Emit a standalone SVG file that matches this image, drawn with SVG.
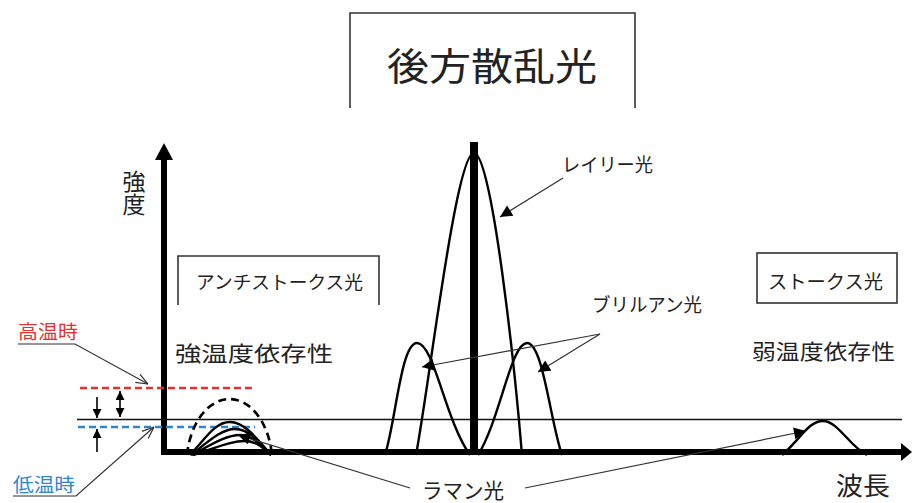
<svg xmlns="http://www.w3.org/2000/svg" width="912" height="503" viewBox="0 0 912 503">
<style>
text{font-family:"Noto Sans CJK JP","Noto Sans",sans-serif;fill:#222}
.box{fill:none;stroke:#333;stroke-width:1.6}
.axis{stroke:#000;stroke-width:6;fill:none}
.curve{fill:none;stroke:#000;stroke-width:2.4;stroke-linejoin:round}
.lead{fill:none;stroke:#333;stroke-width:1.2}
.thin{stroke:#111;stroke-width:1.3}
</style>
<defs>
<marker id="tri" viewBox="0 0 10 10" refX="10" refY="5" markerWidth="16" markerHeight="12" orient="auto" markerUnits="userSpaceOnUse"><path d="M0,0 L10,5 L0,10 Z" fill="#000"/></marker>
<marker id="triS" viewBox="0 0 10 10" refX="10" refY="5" markerWidth="9" markerHeight="9" orient="auto-start-reverse" markerUnits="userSpaceOnUse"><path d="M0,0 L10,5 L0,10 Z" fill="#000"/></marker>
<marker id="open" viewBox="0 0 10 10" refX="10" refY="5" markerWidth="12" markerHeight="12" orient="auto" markerUnits="userSpaceOnUse"><path d="M0,1 L10,5 L0,9" fill="none" stroke="#333" stroke-width="1"/></marker>
</defs>

<g id="title">
<path class="box" d="M350,108 V13 H635 V108"/>
<text x="387" y="80" font-size="38" textLength="210" lengthAdjust="spacingAndGlyphs">後方散乱光</text>
</g>

<g id="axes">
<line class="axis" x1="164" y1="455" x2="164" y2="158"/>
<path d="M155,160 L164,143 L173,160 Z" fill="#000"/>
<line class="axis" x1="161" y1="452" x2="903" y2="452"/>
<path d="M901,443 L912,452 L901,461 Z" fill="#000"/>
<text x="134" y="170" font-size="23" style="writing-mode:vertical-rl">強度</text>
<text x="836" y="495" font-size="25" textLength="54" lengthAdjust="spacingAndGlyphs">波長</text>
</g>

<g id="reference-lines">
<line class="thin" x1="77" y1="419.5" x2="902" y2="419.5"/>
<line x1="80" y1="388" x2="255" y2="388" stroke="#e8312f" stroke-width="2.5" stroke-dasharray="7,4"/>
<line x1="78" y1="427" x2="255" y2="427" stroke="#2f86d0" stroke-width="2.5" stroke-dasharray="7,4"/>
</g>

<g id="anti-stokes">
<path class="box" d="M178,305 V256 H379 V305"/>
<text x="196" y="289" font-size="18.5" textLength="167" lengthAdjust="spacingAndGlyphs">アンチストークス光</text>
<text x="175" y="361" font-size="21" textLength="158" lengthAdjust="spacingAndGlyphs">強温度依存性</text>
<path d="M187,455 A43,66 0 0 1 272,455" fill="none" stroke="#000" stroke-width="2.6" stroke-dasharray="8,5"/>
<path class="curve" d="M190,455 C206,438 215,422 230,422 C245,422 258,440 271,455"/>
<path class="curve" d="M191,455 C210,440 222,429 235,429 C249,429 260,442 271,455"/>
<path class="curve" d="M192,455 C214,443 227,435 240,435 C252,435 262,445 271,455"/>
<path class="curve" d="M193,455 C218,447 232,441 245,441 C256,441 264,448 271,455"/>
</g>

<g id="temp-labels">
<text x="18" y="339" font-size="19" style="fill:#e8312f" textLength="60" lengthAdjust="spacingAndGlyphs">高温時</text>
<text x="13" y="492" font-size="19" style="fill:#2f86d0" textLength="62" lengthAdjust="spacingAndGlyphs">低温時</text>
</g>

<g id="rayleigh">
<line x1="474" y1="142" x2="474" y2="455" stroke="#000" stroke-width="8"/>
<path class="curve" d="M416,455 C430,380 456,153 474,153 C492,153 515,370 522,455"/>
<text x="562" y="172" font-size="19" textLength="91" lengthAdjust="spacingAndGlyphs">レイリー光</text>
</g>

<g id="brillouin">
<path class="curve" d="M385,455 C396,420 401,343 417,343 C434,343 445,420 470,455"/>
<path class="curve" d="M478,455 C500,420 511,343 527,343 C543,343 550,420 562,455"/>
<text x="592" y="312" font-size="19" textLength="110" lengthAdjust="spacingAndGlyphs">ブリルアン光</text>
</g>

<g id="stokes">
<rect class="box" x="757" y="253" width="140" height="50"/>
<text x="768" y="289" font-size="19" textLength="115" lengthAdjust="spacingAndGlyphs">ストークス光</text>
<text x="752" y="359" font-size="21" textLength="143" lengthAdjust="spacingAndGlyphs">弱温度依存性</text>
<path class="curve" d="M782,455 C800,440 808,421 823,421 C838,421 850,447 867,455"/>
</g>

<g id="raman">
<text x="422" y="498" font-size="21" textLength="82" lengthAdjust="spacingAndGlyphs">ラマン光</text>
</g>

<g id="connectors">
<line class="lead" x1="563" y1="178" x2="500" y2="217" marker-end="url(#tri)"/>
<line class="lead" x1="600" y1="334" x2="422" y2="367" marker-end="url(#tri)"/>
<line class="lead" x1="600" y1="334" x2="538" y2="372" marker-end="url(#tri)"/>
<line class="lead" x1="410" y1="488" x2="238" y2="435" marker-end="url(#tri)"/>
<line class="lead" x1="525" y1="488" x2="806" y2="431" marker-end="url(#tri)"/>
<polyline class="lead" points="18,344 75,344 148,384" marker-end="url(#open)"/>
<polyline class="lead" points="13,496 76,496 154,427" marker-end="url(#open)"/>
<line x1="97" y1="397" x2="97" y2="418" stroke="#000" stroke-width="1.6" marker-end="url(#triS)"/>
<line x1="97" y1="452" x2="97" y2="429" stroke="#000" stroke-width="1.6" marker-end="url(#triS)"/>
<line x1="120" y1="391" x2="120" y2="417" stroke="#000" stroke-width="1.6" marker-start="url(#triS)" marker-end="url(#triS)"/>
</g>
</svg>
